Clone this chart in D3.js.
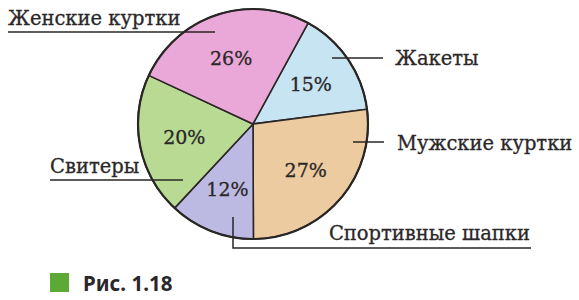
<!DOCTYPE html>
<html>
<head>
<meta charset="utf-8">
<script src="https://cdn.jsdelivr.net/npm/d3@7"></script>
<style>
  body { margin: 0; background: #fff; }
</style>
</head>
<body>
<div id="chart"></div>
<script>
// Pie: sales structure (Рис. 1.18)
const categories = ["Жакеты", "Мужские куртки", "Спортивные шапки", "Свитеры", "Женские куртки"];
const shares = [15, 27, 12, 20, 26];
const sliceColors = ["#c6e4f2", "#ebcb9f", "#bcbae3", "#b8da93", "#eaa8d8"];

const W = 579, H = 300;
const cx = 253, cy = 124, R = 115;

const svg = d3.select("#chart").append("svg")
    .attr("width", W)
    .attr("height", H);

const g = svg.append("g")
    .attr("transform", `translate(${cx},${cy})`);

const pie = d3.pie()
    .sort(null)
    .value(d => d)
    .startAngle(28.6 * Math.PI / 180)
    .endAngle(28.6 * Math.PI / 180 + 2 * Math.PI);

const arcs = pie(shares);

const arc = d3.arc().innerRadius(0).outerRadius(R);
const labelArc = d3.arc().innerRadius(70).outerRadius(70);

g.selectAll("path.slice")
    .data(arcs)
    .join("path")
    .attr("class", "slice")
    .attr("d", arc)
    .attr("fill", (d, i) => sliceColors[i])
    .attr("stroke", "#2a2626")
    .attr("stroke-width", 1.6)
    .attr("stroke-linejoin", "round");

// outer ring a bit heavier
g.append("circle")
    .attr("r", R)
    .attr("fill", "none")
    .attr("stroke", "#2a2626")
    .attr("stroke-width", 2.2);

g.selectAll("text.pct")
    .data(arcs)
    .join("text")
    .attr("class", "pct")
    .attr("x", d => labelArc.centroid(d)[0])
    .attr("y", d => labelArc.centroid(d)[1])
    .attr("text-anchor", "middle")
    .attr("dominant-baseline", "central")
    .attr("font-family", "'DejaVu Serif', serif")
    .attr("font-size", "19px")
    .attr("fill", "#2b2728")
    .attr("stroke", "#2b2728")
    .attr("stroke-width", 0.3)
    .text(d => d.value + "%");

// callouts: label position + leader path (page coords)
const callouts = [
    { name: "Жакеты", tx: 395, ty: 65, anchor: "start", path: [[332, 58], [383, 58]] },
    { name: "Мужские куртки", tx: 397, ty: 150, anchor: "start", path: [[353, 142], [384, 142]] },
    { name: "Спортивные шапки", tx: 530, ty: 240, anchor: "end", path: [[233, 217], [233, 248], [531, 248]] },
    { name: "Свитеры", tx: 50, ty: 173, anchor: "start", path: [[50, 180], [183, 180]] },
    { name: "Женские куртки", tx: 8, ty: 25, anchor: "start", path: [[8, 32], [215, 32]] }
];

const line = d3.line();

svg.selectAll("path.leader")
    .data(callouts)
    .join("path")
    .attr("class", "leader")
    .attr("d", d => line(d.path))
    .attr("fill", "none")
    .attr("stroke", "#2a2626")
    .attr("stroke-width", 1.5);

svg.selectAll("text.cat")
    .data(callouts)
    .join("text")
    .attr("class", "cat")
    .attr("x", d => d.tx)
    .attr("y", d => d.ty)
    .attr("text-anchor", d => d.anchor)
    .attr("font-family", "'DejaVu Serif', serif")
    .attr("font-size", "19.5px")
    .attr("fill", "#2b2728")
    .attr("stroke", "#2b2728")
    .attr("stroke-width", 0.3)
    .text(d => d.name);

// figure caption
svg.append("rect")
    .attr("x", 50).attr("y", 273)
    .attr("width", 19).attr("height", 19)
    .attr("fill", "#5ca935");

svg.append("text")
    .attr("x", 83)
    .attr("y", 291)
    .attr("font-family", "'Noto Sans', sans-serif")
    .attr("font-weight", "bold")
    .attr("font-size", "20.5px")
    .attr("fill", "#2b2728")
    .text("Рис. 1.18");
</script>
</body>
</html>
